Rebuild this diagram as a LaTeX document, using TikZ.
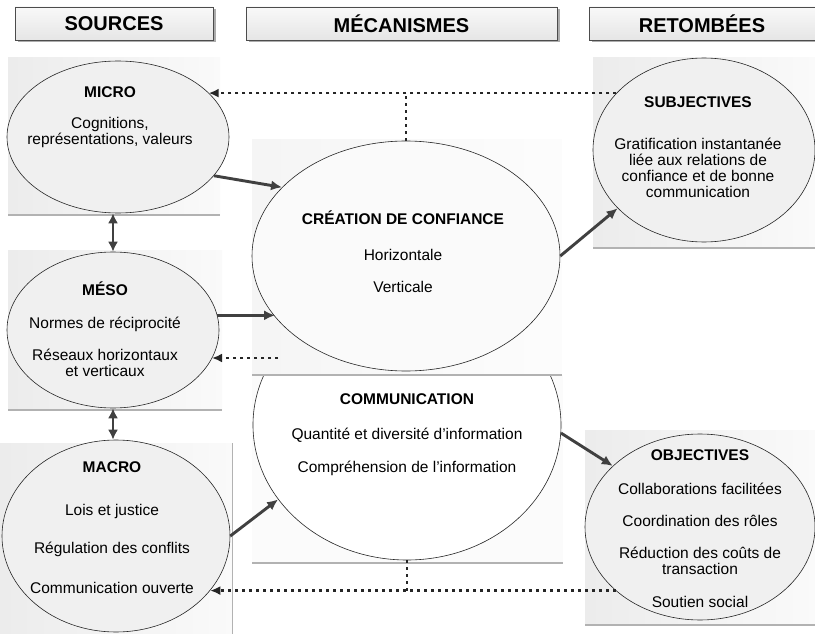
\documentclass[tikz,border=0pt]{standalone}
\usepackage{fontspec}
\setmainfont{Liberation Sans}
\usetikzlibrary{shapes.geometric,arrows.meta,shadows}

\tikzset{
	hdr/.style={draw=black!70, line width=0.7pt, top color=gray!5, bottom color=gray!20, minimum height=33pt, inner sep=0pt, font=\fontsize{20}{24}\selectfont\bfseries, drop shadow={shadow xshift=2.5pt, shadow yshift=-2.5pt, fill=gray!65, opacity=1}},
	bg/.style={left color=gray!15, right color=gray!4},
	rim/.style={draw=gray!60, line width=1.6pt},
	oval/.style={ellipse, draw=black!85, line width=0.6pt, inner sep=0pt},
	src/.style={oval, fill=gray!12},
	txt/.style={align=center, inner sep=0pt, anchor=north, font=\fontsize{15.5}{16}\selectfont},
	arr/.style={-{Latex[length=11pt,width=10pt]}, line width=2.9pt, draw=black!75},
	biarr/.style={{Latex[length=10pt,width=10pt]}-{Latex[length=10pt,width=10pt]}, line width=2.9pt, draw=black!75},
	dotline/.style={line width=2.6pt, draw=black!85, dash pattern=on 3pt off 4pt},
	dotarr/.style={dotline, -{Latex[length=10pt,width=9pt]}}
}

\begin{document}
\begin{tikzpicture}[x=1pt, y=-1pt]
	\useasboundingbox (0,0) rectangle (815,634);

	% en-tetes
	\node[hdr, minimum width=198pt] (hsrc) at (114,23.5) {SOURCES};
	\node[hdr, minimum width=311pt] (hmec) at (401.5,23.5) {MÉCANISMES};
	\node[hdr, minimum width=226pt] (hret) at (702,23.5) {RETOMBÉES};

	% fonds
	\fill[bg] (8,58) rectangle (220,215);
	\fill[bg] (8,250) rectangle (222,410);
	\fill[bg] (0,443) rectangle (232,634);
	\fill[left color=gray!8, right color=gray!2] (252,140) rectangle (562,375);
	\fill[gray!3] (252,375) rectangle (563,563);
	\fill[bg] (593,58) rectangle (815,248);
	\fill[bg] (585,430) rectangle (815,625);

	% ellipses
	\node[src, minimum width=222pt, minimum height=152pt] (micro) at (118,137) {};
	\node[src, minimum width=212pt, minimum height=156pt] (meso) at (113,330) {};
	\node[src, minimum width=228pt, minimum height=192pt] (macro) at (116,536) {};
	\node[oval, fill=gray!4, minimum width=308pt, minimum height=230pt] (conf) at (406,256) {};
	\begin{scope}
		\clip (252,375) rectangle (563,563);
		\node[oval, fill=white, minimum width=308pt, minimum height=270pt] (comm) at (407,425) {};
	\end{scope}
	\node[src, minimum width=222pt, minimum height=184pt] (subj) at (704,150) {};
	\node[src, minimum width=230pt, minimum height=186pt] (obj) at (700,527) {};

	\draw[rim] (8,215) -- (220,215);
	\draw[rim] (8,410) -- (222,410);
	\draw[draw=gray!60, line width=0.8pt] (232,443) -- (232,634);
	\draw[rim] (252,375) -- (562,375);
	\draw[rim] (252,563) -- (563,563);
	\draw[rim] (593,248) -- (815,248);
	\draw[rim] (585,625) -- (815,625);

	% textes
	\node[txt] (tmicro) at (110,83.3) {\textbf{MICRO\vphantom{É}}\\[15pt]Cognitions,\\représentations, valeurs};
	\node[txt] (tmeso) at (105,281.3) {\textbf{MÉSO}\\[17pt]Normes de réciprocité\\[16pt]Réseaux horizontaux\\et verticaux};
	\node[txt] (tmacro) at (112,458.3) {\textbf{MACRO\vphantom{É}}\\[27pt]Lois et justice\\[22pt]Régulation des conflits\\[24pt]Communication ouverte};
	\node[txt] (tconf) at (403,210.3) {\textbf{CRÉATION DE CONFIANCE}\\[20pt]Horizontale\\[16pt]Verticale};
	\node[txt] (tcomm) at (407,390.3) {\textbf{COMMUNICATION\vphantom{É}}\\[19pt]Quantité et diversité d'information\\[17pt]Compréhension de l'information};
	\node[txt] (tsubj) at (698,94) {\textbf{SUBJECTIVES\vphantom{É}}\\[26pt]Gratification instantanée\\liée aux relations de\\confiance et de bonne\\communication};
	\node[txt] (tobj) at (700,446.5) {\textbf{OBJECTIVES\vphantom{É}}\\[18pt]Collaborations facilitées\\[16pt]Coordination des rôles\\[16pt]Réduction des coûts de\\transaction\\[17pt]Soutien social};

	% liens
	\draw[arr] (micro.-22) -- (conf.151);
	\draw[arr] (meso.8) -- (meso.8 -| conf.205);
	\draw[arr] (macro.0) -- (comm.210);
	\draw[arr] (conf.0) -- (subj.214);
	\draw[arr] (comm.-3) -- (obj.145);
	\draw[biarr] (meso.north |- micro.south) -- (meso.north);
	\draw[biarr] (meso.south) -- (meso.south |- macro.north);

	% retours
	\draw[dotarr] (subj.147) -- (subj.147 -| micro.26);
	\draw[dotline] (conf.north) -- (conf.north |- subj.147);
	\coordinate (back) at (278,358);
	\draw[dotarr] (back) -- (back -| meso.-16);
	\draw[dotarr] (obj.217) -- (obj.217 -| macro.-30);
	\draw[dotline] (comm.south) -- (comm.south |- obj.217);
\end{tikzpicture}
\end{document}
